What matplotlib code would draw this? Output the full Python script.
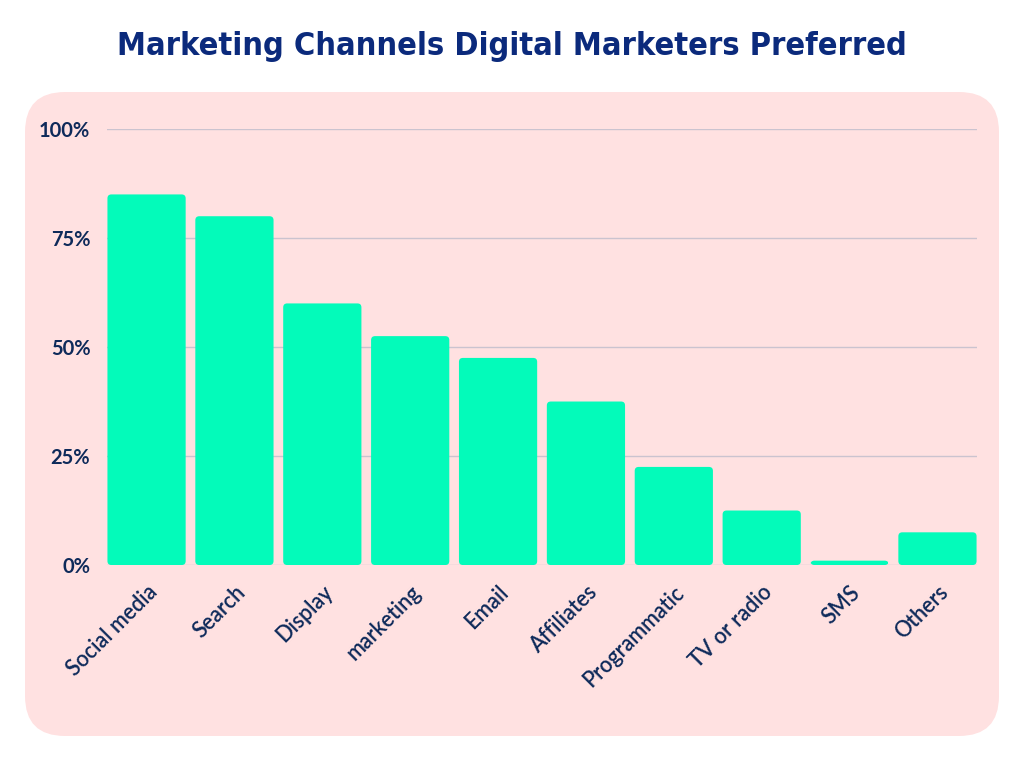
import matplotlib
matplotlib.use('Agg')
import matplotlib.pyplot as plt
from matplotlib.patches import FancyBboxPatch

# Données
canaux = ['Social media', 'Search', 'Display', 'marketing', 'Email',
          'Affiliates', 'Programmatic', 'TV or radio', 'SMS', 'Others']
pourcentages = [85, 80, 60, 52.5, 47.5, 37.5, 22.5, 12.5, 1, 7.5]
graduations = [0, 25, 50, 75, 100]
etiquettes_y = ['0%', '25%', '50%', '75%', '100%']

titre = 'Marketing Channels Digital Marketers Preferred'
couleur_barre = '#03FBBA'
couleur_fond = '#FFE1E1'
couleur_texte = '#0E2A5A'
couleur_titre = '#0B2A7C'

fig = plt.figure(figsize=(10.24, 7.68), dpi=100)
fig.patch.set_facecolor('white')

# Panneau rose aux coins arrondis (coordonnées en pouces)
fond = FancyBboxPatch((0.25, 0.32), 9.74, 6.44,
                      boxstyle='round,pad=0,rounding_size=0.4',
                      transform=fig.dpi_scale_trans,
                      facecolor=couleur_fond, edgecolor='none', zorder=-5)
fig.patches.append(fond)

fig.text(0.5, 0.94, titre, ha='center', va='center', fontsize=23.3,
         fontweight='bold', fontstretch='condensed', color=couleur_titre,
         family=['DejaVu Sans'])

ax = fig.add_axes([0.1045, 0.2643, 0.8496, 0.5677])
ax.set_facecolor('none')

x = list(range(len(canaux)))
barres = ax.bar(x, pourcentages, width=0.89, color=couleur_barre, zorder=3)

# On remplace chaque barre par une version aux coins légèrement arrondis
for b in barres:
    b.set_visible(False)
    arrondi = FancyBboxPatch((b.get_x(), b.get_y()), b.get_width(), b.get_height(),
                             boxstyle='round,pad=0,rounding_size=0.045',
                             mutation_aspect=20,
                             facecolor=couleur_barre, edgecolor='none', zorder=3)
    ax.add_patch(arrondi)

ax.set_xlim(-0.45, len(canaux) - 0.55)
ax.set_ylim(0, 100)

ax.set_yticks(graduations)
ax.set_yticklabels(etiquettes_y)
ax.yaxis.grid(True, color='#CBC3CF', linewidth=1, zorder=1)
ax.set_axisbelow(True)

ax.set_xticks(x)
ax.set_xticklabels(canaux, rotation=45, ha='right', rotation_mode='anchor')

for s in ax.spines.values():
    s.set_visible(False)
ax.tick_params(axis='both', length=0, colors=couleur_texte)
ax.tick_params(axis='y', pad=12)
ax.tick_params(axis='x', pad=12)

for lab in ax.get_yticklabels():
    lab.set_fontsize(14.5)
    lab.set_fontweight('bold')
    lab.set_family(['Lato', 'DejaVu Sans'])
for lab in ax.get_xticklabels():
    lab.set_fontsize(15.5)
    lab.set_family(['Lato', 'DejaVu Sans'])
    lab.set_fontweight('semibold')

fig.savefig('out.png', dpi=100, facecolor=fig.get_facecolor())
